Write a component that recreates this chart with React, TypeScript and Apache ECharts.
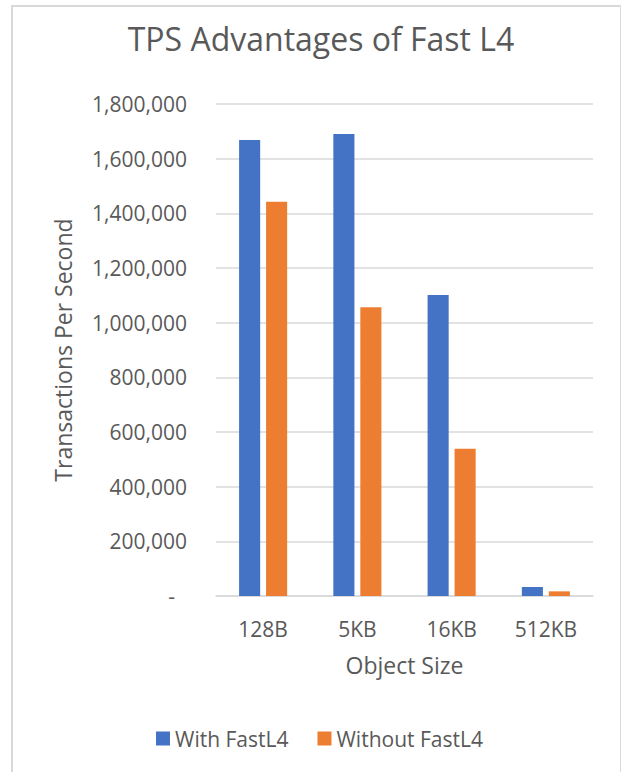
import React, { useEffect, useRef } from "react";
import * as echarts from "echarts";

const categories = ["128B", "5KB", "16KB", "512KB"];
const withFastL4 = [1668000, 1690000, 1101000, 33000];
const withoutFastL4 = [1442000, 1056000, 539000, 17000];
const seriesNames = ["With FastL4", "Without FastL4"];
const chartTitle = "TPS Advantages of Fast L4";
const yAxisTitle = "Transactions Per Second";
const xAxisTitle = "Object Size";

const FONT = "'Open Sans', 'Noto Sans', sans-serif";
const TEXT = "#595959";

export default function App() {
  const ref = useRef<HTMLDivElement>(null);
  useEffect(() => {
    if (!ref.current) return;
    const chart = echarts.init(ref.current, null, { renderer: "svg" });
    chart.setOption({
      animation: false,
      backgroundColor: "#ffffff",
      textStyle: { fontFamily: FONT, color: TEXT },
      title: {
        text: chartTitle,
        left: 316,
        textAlign: "center",
        top: 17,
        textStyle: { fontFamily: FONT, fontSize: 32, fontWeight: "normal", color: TEXT },
      },
      graphic: [
        {
          type: "rect",
          shape: { x: 12, y: 6, width: 609, height: 790 },
          style: { fill: "none", stroke: "#d9d9d9", lineWidth: 2 },
          silent: true,
          z: -1,
        },
      ],
      legend: {
        data: seriesNames,
        left: 151,
        top: 723,
        icon: "rect",
        itemWidth: 14,
        itemHeight: 14,
        itemGap: 29,
        textStyle: { fontFamily: FONT, fontSize: 21, color: TEXT },
      },
      grid: { left: 216, right: 28, top: 104, bottom: 176, containLabel: false },
      xAxis: {
        type: "category",
        data: categories,
        name: xAxisTitle,
        nameLocation: "middle",
        nameGap: 57,
        nameTextStyle: { fontFamily: FONT, fontSize: 23, color: TEXT },
        axisLine: { show: true, lineStyle: { color: "#d9d9d9", width: 1.5 } },
        axisTick: { show: false },
        axisLabel: { margin: 22, fontFamily: FONT, fontSize: 21, color: TEXT },
      },
      yAxis: {
        type: "value",
        min: 0,
        max: 1800000,
        interval: 200000,
        name: yAxisTitle,
        nameLocation: "middle",
        nameRotate: 90,
        nameGap: 142,
        nameTextStyle: { fontFamily: FONT, fontSize: 23, color: TEXT },
        axisLine: { show: false },
        axisTick: { show: false },
        splitLine: { lineStyle: { color: "#d9d9d9", width: 1.5 } },
        axisLabel: {
          margin: 29,
          fontFamily: FONT,
          fontSize: 21,
          color: TEXT,
          formatter: (v: number) => (v === 0 ? "{d|-}" : v.toLocaleString("en-US")),
          rich: { d: { fontFamily: FONT, fontSize: 21, color: TEXT, padding: [0, 12, 0, 0] } },
        },
      },
      series: [
        {
          name: seriesNames[0],
          type: "bar",
          data: withFastL4,
          itemStyle: { color: "#4472C4" },
          barCategoryGap: "49%",
          barGap: "28%",
        },
        {
          name: seriesNames[1],
          type: "bar",
          data: withoutFastL4,
          itemStyle: { color: "#ED7D31" },
          barCategoryGap: "49%",
          barGap: "28%",
        },
      ],
    });
    return () => chart.dispose();
  }, []);
  return (
    <div
      ref={ref}
      style={{ position: "fixed", left: 0, top: 0, width: 621, height: 772 }}
    />
  );
}
